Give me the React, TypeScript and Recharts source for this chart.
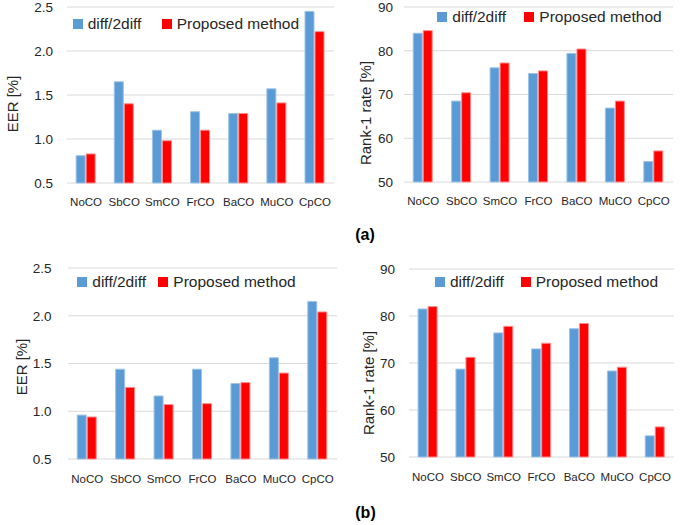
import React from 'react';
import { BarChart, Bar, XAxis, YAxis, CartesianGrid, Legend } from 'recharts';

// Occlusion categories shown on every x axis
const categories = ['NoCO', 'SbCO', 'SmCO', 'FrCO', 'BaCO', 'MuCO', 'CpCO'];
const seriesNames = ['diff/2diff', 'Proposed method'];

// (a) EER and rank-1 rate
const eerA_diff = [0.81, 1.65, 1.1, 1.31, 1.29, 1.57, 2.45];
const eerA_proposed = [0.83, 1.4, 0.98, 1.1, 1.29, 1.41, 2.22];
const rankA_diff = [84.0, 68.5, 76.1, 74.8, 79.4, 66.9, 54.7];
const rankA_proposed = [84.6, 70.4, 77.2, 75.4, 80.4, 68.5, 57.1];

// (b) EER and rank-1 rate
const eerB_diff = [0.96, 1.44, 1.16, 1.44, 1.29, 1.56, 2.15];
const eerB_proposed = [0.94, 1.25, 1.07, 1.08, 1.3, 1.4, 2.04];
const rankB_diff = [81.5, 68.7, 76.4, 73.0, 77.3, 68.3, 54.5];
const rankB_proposed = [82.0, 71.2, 77.8, 74.2, 78.4, 69.1, 56.4];

const eerTicks = [0.5, 1.0, 1.5, 2.0, 2.5];
const rankTicks = [50, 60, 70, 80, 90];

const FONT = '"Liberation Sans", Arial, sans-serif';
const TEXT = '#262626';
const COLORS = ['#5B9BD5', '#FF0000'];
const EDGES = ['#9DC3E6', '#FF8C8C'];

const buildRows = (a: number[], b: number[]) =>
  categories.map((name, i) => ({ name, diff: a[i], proposed: b[i] }));

type PanelProps = {
  left: number;
  top: number;
  width: number;
  height: number;
  margin: { top: number; right: number; bottom: number; left: number };
  yWidth: number;
  yTickMargin: number;
  xHeight: number;
  xTickMargin: number;
  domain: [number, number];
  ticks: number[];
  decimals: number;
  title: string;
  titleX: number;
  titleY: number;
  legendLeft: number;
  legendTop: number;
  legendGap: number;
  diff: number[];
  proposed: number[];
};

const LegendKeys = ({ gap }: { gap: number }) => (
  <div
    style={{
      display: 'flex',
      alignItems: 'center',
      fontFamily: FONT,
      fontSize: 15.5,
      lineHeight: '18px',
      color: TEXT,
      whiteSpace: 'nowrap',
    }}
  >
    {seriesNames.map((name, i) => (
      <div
        key={name}
        style={{ display: 'flex', alignItems: 'center', width: i === 0 ? gap : undefined }}
      >
        <span
          style={{ display: 'inline-block', width: 10, height: 10, background: COLORS[i], marginRight: 5 }}
        />
        <span>{name}</span>
      </div>
    ))}
  </div>
);

const Panel = (p: PanelProps) => {
  const rows = buildRows(p.diff, p.proposed);
  const axisTitle = () => (
    <text
      x={p.titleX}
      y={p.titleY}
      transform={`rotate(-90 ${p.titleX} ${p.titleY})`}
      textAnchor="middle"
      dominantBaseline="central"
      fontFamily={FONT}
      fontSize={15}
      fill={TEXT}
    >
      {p.title}
    </text>
  );
  return (
    <div style={{ position: 'absolute', left: p.left, top: p.top }}>
      <BarChart
        width={p.width}
        height={p.height}
        data={rows}
        margin={p.margin}
        barCategoryGap="24%"
        barGap={1}
      >
        <CartesianGrid vertical={false} stroke="#d9d9d9" strokeWidth={1} />
        <XAxis
          dataKey="name"
          interval={0}
          axisLine={false}
          tickLine={false}
          tickSize={0}
          tickMargin={p.xTickMargin}
          height={p.xHeight}
          tick={{ fontFamily: FONT, fontSize: 11.5, fill: TEXT }}
        />
        <YAxis
          width={p.yWidth}
          domain={p.domain}
          ticks={p.ticks}
          interval={0}
          axisLine={false}
          tickLine={false}
          tickSize={0}
          tickMargin={p.yTickMargin}
          tickFormatter={(v: number) => v.toFixed(p.decimals)}
          tick={{ fontFamily: FONT, fontSize: 13.5, fill: TEXT }}
          label={axisTitle}
        />
        <Legend
          layout="vertical"
          align="center"
          verticalAlign="middle"
          wrapperStyle={{ left: p.legendLeft, top: p.legendTop, width: 'auto', height: 'auto' }}
          content={() => <LegendKeys gap={p.legendGap} />}
        />
        <Bar
          dataKey="diff"
          name={seriesNames[0]}
          fill={COLORS[0]}
          stroke={EDGES[0]}
          strokeWidth={1}
          isAnimationActive={false}
        />
        <Bar
          dataKey="proposed"
          name={seriesNames[1]}
          fill={COLORS[1]}
          stroke={EDGES[1]}
          strokeWidth={1}
          isAnimationActive={false}
        />
      </BarChart>
    </div>
  );
};

const Caption = ({ x, y, text }: { x: number; y: number; text: string }) => (
  <div
    style={{
      position: 'absolute',
      left: x,
      top: y,
      transform: 'translate(-50%, -50%)',
      fontFamily: FONT,
      fontWeight: 'bold',
      fontSize: 16,
      color: '#000',
      whiteSpace: 'nowrap',
    }}
  >
    {text}
  </div>
);

export default function App() {
  return (
    <div
      style={{
        position: 'absolute',
        left: 0,
        top: 0,
        width: 699,
        height: 525,
        background: '#fff',
        overflow: 'hidden',
      }}
    >
      <Panel
        left={0}
        top={0}
        width={345}
        height={215}
        margin={{ top: 7, right: 11, bottom: 0, left: 0 }}
        yWidth={67}
        yTickMargin={14}
        xHeight={32}
        xTickMargin={15}
        domain={[0.5, 2.5]}
        ticks={eerTicks}
        decimals={1}
        title="EER [%]"
        titleX={12}
        titleY={104}
        legendLeft={72.7}
        legendTop={15}
        legendGap={89}
        diff={eerA_diff}
        proposed={eerA_proposed}
      />
      <Panel
        left={345}
        top={0}
        width={354}
        height={215}
        margin={{ top: 7, right: 26, bottom: 0, left: 0 }}
        yWidth={59}
        yTickMargin={11}
        xHeight={33}
        xTickMargin={15}
        domain={[50, 90]}
        ticks={rankTicks}
        decimals={0}
        title="Rank-1 rate [%]"
        titleX={20.3}
        titleY={113}
        legendLeft={92.3}
        legendTop={8}
        legendGap={87}
        diff={rankA_diff}
        proposed={rankA_proposed}
      />
      <Panel
        left={0}
        top={255}
        width={345}
        height={230}
        margin={{ top: 13, right: 8, bottom: 0, left: 0 }}
        yWidth={68}
        yTickMargin={16.5}
        xHeight={26}
        xTickMargin={15.5}
        domain={[0.5, 2.5]}
        ticks={eerTicks}
        decimals={1}
        title="EER [%]"
        titleX={21.7}
        titleY={112}
        legendLeft={77.3}
        legendTop={18.3}
        legendGap={81}
        diff={eerB_diff}
        proposed={eerB_proposed}
      />
      <Panel
        left={345}
        top={255}
        width={354}
        height={230}
        margin={{ top: 14, right: 25, bottom: 0, left: 0 }}
        yWidth={64}
        yTickMargin={14}
        xHeight={28}
        xTickMargin={15.5}
        domain={[50, 90]}
        ticks={rankTicks}
        decimals={0}
        title="Rank-1 rate [%]"
        titleX={23.5}
        titleY={128}
        legendLeft={90}
        legendTop={18.2}
        legendGap={85.7}
        diff={rankB_diff}
        proposed={rankB_proposed}
      />
      <Caption x={365} y={235} text="(a)" />
      <Caption x={365.5} y={513} text="(b)" />
    </div>
  );
}
